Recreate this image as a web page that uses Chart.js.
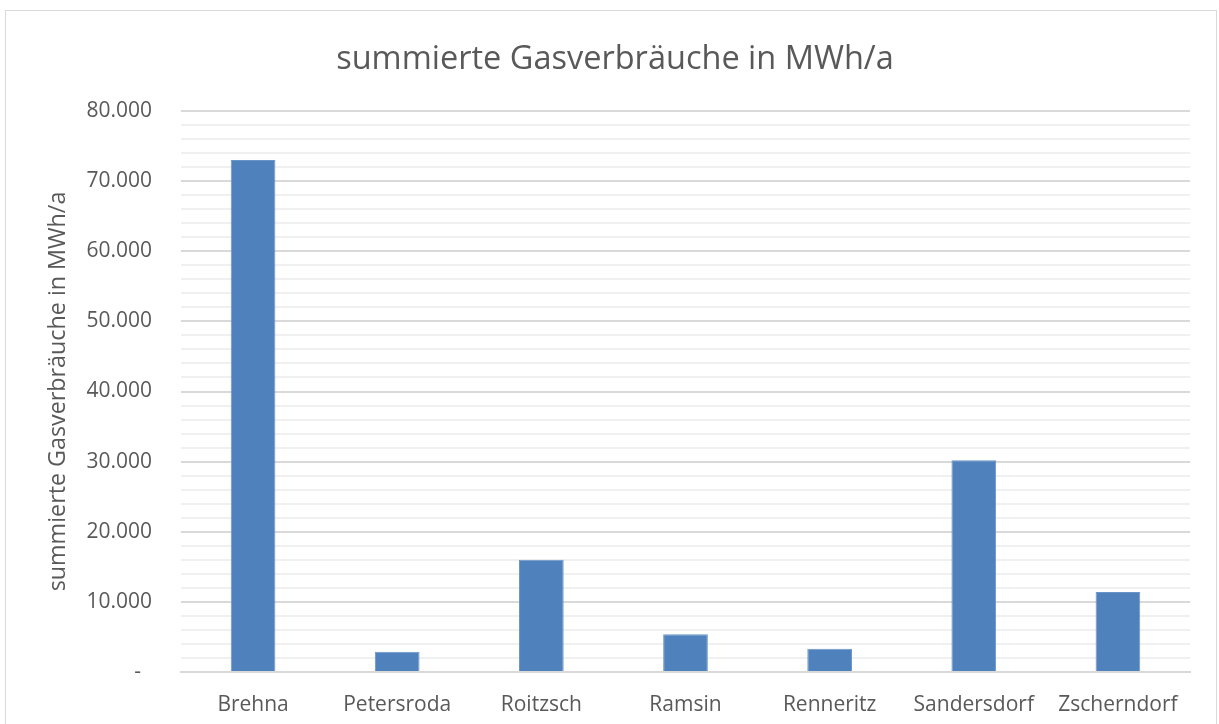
<!DOCTYPE html>
<html>
<head>
<meta charset="utf-8">
<script src="https://cdn.jsdelivr.net/npm/chart.js@4/dist/chart.umd.min.js"></script>
<style>
  body { margin: 0; background: #fff; }
  #box { position: absolute; left: 5px; top: 10px; width: 1212px; height: 720px;
         border: 1px solid #d9d9d9; box-sizing: border-box; }
</style>
</head>
<body>
<div id="box"><canvas id="gasChart"></canvas></div>
<script>
// Data
const orte = ['Brehna', 'Petersroda', 'Roitzsch', 'Ramsin', 'Renneritz', 'Sandersdorf', 'Zscherndorf'];
const verbrauch = [73000, 2900, 16000, 5400, 3300, 30200, 11400];
const yMax = 80000;
const yStep = 2000;      // minor grid
const yMajor = 10000;    // labelled grid

const titel = 'summierte Gasverbräuche in MWh/a';
const grau = '#595959';
const schrift = 'Open Sans';

function fmt(v) {
  if (v === 0) return '-  ';
  return v.toLocaleString('de-DE');
}

const barData = {
  labels: orte,
  datasets: [{
    data: verbrauch,
    backgroundColor: '#4f81bd',
    borderColor: '#6a95c9',
    borderWidth: 1,
    barPercentage: 0.31,
    categoryPercentage: 1
  }]
};

const barConfig = {
  type: 'bar',
  data: barData,
  options: {
    responsive: true,
    maintainAspectRatio: false,
    animation: false,
    layout: { padding: { top: 29, right: 26, left: 34, bottom: 14 } },
    plugins: {
      legend: { display: false },
      tooltip: { enabled: false },
      title: {
        display: true,
        text: titel,
        color: grau,
        font: { family: schrift, size: 32.5, weight: 'normal' },
        padding: { top: 0, bottom: 32 }
      }
    },
    scales: {
      x: {
        grid: { display: false },
        border: { color: '#d9d9d9', width: 2 },
        ticks: { color: grau, font: { family: schrift, size: 21 }, padding: 12 },
        afterFit: s => { s.height = 43; }
      },
      y: {
        min: 0,
        max: yMax,
        border: { display: false },
        grid: {
          color: ctx => (ctx.tick && ctx.tick.value % yMajor === 0) ? '#d9d9d9' : '#f0f0f0',
          lineWidth: 2,
          drawTicks: false
        },
        ticks: {
          stepSize: yStep,
          autoSkip: false,
          color: grau,
          padding: 29,
          font: { family: schrift, size: 21 },
          callback: v => (v % yMajor === 0 ? fmt(v) : '')
        },
        title: {
          display: true,
          text: titel,
          color: grau,
          font: { family: schrift, size: 23.3 },
          padding: { top: 4, bottom: 4 }
        },
        afterFit: s => { s.width = 141; }
      }
    }
  }
};

var bar_area = document.getElementById('gasChart');
var myBarChart = new Chart(bar_area, barConfig);
</script>
</body>
</html>
